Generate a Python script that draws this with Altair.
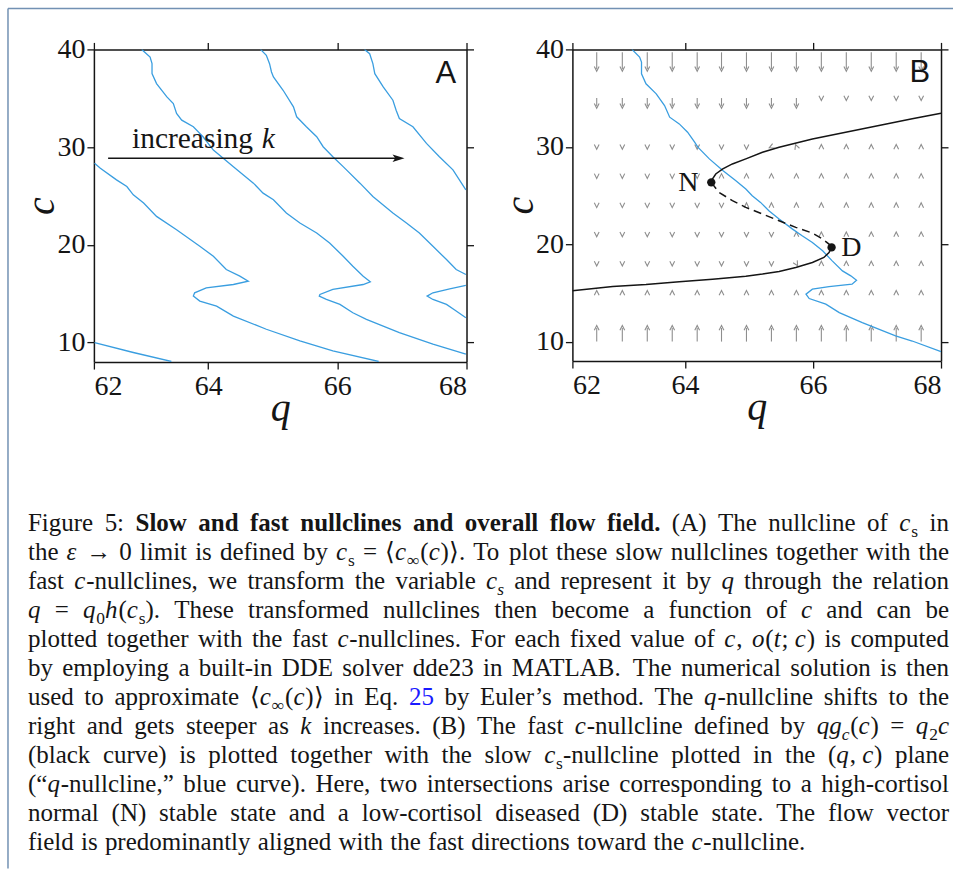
import math
import altair as alt
import pandas as pd

# ---------------- Panel A: slow q-nullclines (blue) ----------------
A1_q = [62.24, 62.84, 63.43]
A1_c = [10.0, 8.98, 8.06]

A2_q = [62.24, 62.33, 62.58, 62.74, 62.84, 63.00, 63.20, 63.51, 63.87, 64.08, 64.28, 64.49,
        64.62, 64.39, 63.97, 63.79, 63.77, 63.87, 64.13, 64.39, 64.90, 65.42, 65.93, 66.64]
A2_c = [28.35, 27.84, 26.65, 25.97, 25.12, 24.27, 22.91, 21.55, 19.85, 18.83, 17.47, 16.79,
        16.28, 15.94, 15.60, 15.09, 14.75, 14.24, 13.73, 12.71, 11.36, 10.17, 9.15, 8.06]

A3_q = [62.97, 63.10, 63.13, 63.13, 63.20, 63.36, 63.46, 63.51, 63.59, 63.77, 63.92, 64.08,
        64.39, 64.70, 64.85, 65.01, 65.21, 65.42, 65.68, 65.88, 66.09, 66.24, 66.40, 66.51,
        66.40, 65.93, 65.73, 65.72, 65.83, 66.04, 66.24, 66.45, 66.96, 67.48, 67.99]
A3_c = [40.0, 39.22, 38.54, 37.52, 36.50, 35.14, 34.46, 33.44, 32.76, 32.08, 31.06, 29.70,
        28.00, 26.31, 25.29, 24.61, 23.25, 22.23, 21.21, 20.19, 18.83, 17.81, 16.79, 16.21,
        15.94, 15.43, 14.92, 14.75, 14.41, 13.90, 13.05, 12.37, 11.02, 9.83, 8.81]

A4_q = [64.81, 64.90, 64.95, 64.98, 65.01, 65.16, 65.32, 65.37, 65.52, 65.68, 65.78, 65.93,
        66.09, 66.35, 66.55, 66.86, 67.07, 67.27, 67.48, 67.69, 67.84, 67.99]
A4_c = [40.0, 39.39, 38.54, 37.69, 37.18, 35.82, 34.12, 33.10, 32.08, 31.06, 30.04, 29.02,
        28.00, 26.31, 24.95, 23.25, 22.23, 21.21, 19.85, 18.49, 17.47, 16.96]
A4b_q = [67.99, 67.74, 67.48, 67.39, 67.48, 67.69, 67.84, 67.99]
A4b_c = [15.84, 15.50, 15.09, 14.75, 14.41, 13.90, 13.22, 12.54]

A5_q = [66.42, 66.50, 66.55, 66.58, 66.71, 66.86, 66.91, 66.96, 67.17, 67.38, 67.58, 67.79, 67.99]
A5_c = [40.0, 39.56, 38.54, 37.52, 36.16, 34.80, 33.78, 32.93, 32.08, 30.38, 29.02, 27.67, 25.63]

ARROW_Q = [62.45, 67.04]     # "increasing k" arrow, tail and tip
ARROW_C = 28.86
INC_Q, INC_C = 62.82, 29.88  # "increasing" text
K_Q = 64.83                  # italic k

# ---------------- Panel B ----------------
B_blue_q = [63.17, 63.29, 63.32, 63.32, 63.39, 63.55, 63.68, 63.76, 63.91, 64.04, 64.15, 64.20,
            64.38, 64.59, 64.79, 64.95, 65.05, 65.18, 65.31, 65.47, 65.68, 65.83, 65.99, 66.15,
            66.30, 66.46, 66.59, 66.68, 66.61, 66.25, 65.99, 65.89, 65.94, 66.20, 66.41, 66.77,
            67.29, 67.55, 68.0]
B_blue_c = [40.0, 39.21, 38.70, 37.50, 36.47, 35.44, 34.24, 33.04, 32.35, 31.50, 30.47, 29.96,
            28.76, 27.56, 26.53, 25.67, 24.98, 24.29, 23.43, 22.58, 21.55, 20.86, 20.18, 19.32,
            18.29, 17.26, 16.75, 16.30, 15.89, 15.65, 15.38, 14.87, 14.42, 13.84, 12.98, 11.95,
            10.58, 10.06, 8.97]

B_up_q = [68.0, 67.55, 67.03, 66.51, 65.99, 65.47, 65.21, 64.95, 64.74, 64.59, 64.48, 64.43, 64.41]
B_up_c = [33.45, 32.87, 32.18, 31.50, 30.81, 29.96, 29.44, 28.76, 28.24, 27.73, 27.21, 26.70, 26.35]
B_mid_q = [64.41, 64.53, 64.74, 64.95, 65.21, 65.47, 65.73, 65.99, 66.15, 66.25, 66.29]
B_mid_c = [26.35, 25.33, 24.47, 23.78, 23.10, 22.41, 21.73, 21.14, 20.53, 20.01, 19.67]
B_low_q = [66.29, 66.25, 66.17, 65.99, 65.73, 65.47, 65.21, 64.95, 64.43, 63.91, 63.39, 62.87, 62.24]
B_low_c = [19.67, 19.15, 18.64, 18.12, 17.61, 17.20, 16.93, 16.72, 16.41, 16.14, 15.86, 15.66, 15.21]

STATES = ["N", "D"]
STATE_Q = [64.41, 66.29]
STATE_C = [26.35, 19.67]
LABEL_Q = [64.21, 66.44]
LABEL_C = [25.46, 18.78]

# vector field grid (tail positions), direction (deg clockwise from up) and length (c units)
VF_Q = [62.62, 63.02, 63.41, 63.80, 64.19, 64.57, 64.96, 65.35, 65.74, 66.13, 66.52, 66.91, 67.30, 67.69]
VF_C = [39.7, 35.0, 30.0, 27.0, 24.0, 21.0, 18.0, 15.0, 10.0]
VF_ANG = [
    [180] * 14,
    [180] * 14,
    [180] * 7 + [245, 340] + [0] * 5,
    [180] * 5 + [0] * 9,
    [180] * 6 + [0] * 8,
    [180] * 8 + [0] * 6,
    [180] * 8 + [150] + [0] * 5,
    [0] * 14,
    [0] * 14,
]
VF_LEN = [
    [1.7] * 14,
    [0.8] * 9 + [0] * 5,
    [0] * 14, [0] * 14, [0] * 14, [0] * 14, [0] * 14, [0] * 14,
    [1.4] * 14,
]

# ---------------- style ----------------
BLUE = "#3a9ee0"
BLACK = "#151515"
GRAY = "#8e8e8e"
SERIF = "Liberation Serif"
SANS = "Liberation Sans"


def cdf(qs, cs, name):
    return pd.DataFrame({"q": qs, "c": cs, "curve": name, "ord": list(range(len(qs)))})


LAB = "datum.value < 63 ? '62' : datum.label"
AX = dict(labelFont=SERIF, labelFontSize=28, labelColor=BLACK, titleFont=SERIF, titleFontSize=40,
          titleFontStyle="italic", titleFontWeight="normal", titleColor=BLACK,
          domainColor=BLACK, domainWidth=1.5, tickColor=BLACK, tickSize=7, tickWidth=1.3, grid=False)


def panel(layers, xdom, w, h):
    xs = alt.Scale(domain=xdom, nice=False, zero=False)
    ys = alt.Scale(domain=[8, 40], nice=False, zero=False)
    xv = [xdom[0], 64, 66, 68]
    yv = [10, 20, 30, 40]
    X = alt.X("q:Q", scale=xs, axis=alt.Axis(orient="bottom", values=xv, labelExpr=LAB, title="q",
                                             labelPadding=3, titlePadding=-12, **AX))
    Y = alt.Y("c:Q", scale=ys, axis=alt.Axis(orient="left", values=yv, title="c",
                                             labelPadding=2, titlePadding=-5, **AX))
    Xn = alt.X("q:Q", scale=xs, axis=None)
    Yn = alt.Y("c:Q", scale=ys, axis=None)
    Xt = alt.X("q:Q", scale=xs, axis=alt.Axis(orient="top", values=xv, labels=False, title=None, **AX))
    Yr = alt.Y("c:Q", scale=ys, axis=alt.Axis(orient="right", values=yv, labels=False, title=None, **AX))
    built = [f(Xn, Yn) for f in layers]
    frame_df = cdf([xdom[0], 68], [8, 40], "f")
    bottom_left = alt.Chart(frame_df).mark_point(opacity=0).encode(x=X, y=Y)
    top_right = alt.Chart(frame_df).mark_point(opacity=0).encode(x=Xt, y=Yr)
    return alt.layer(bottom_left, *built, top_right).resolve_axis(
        x="independent", y="independent").properties(width=w, height=h)


# ---------- panel A ----------
dfA = pd.concat([cdf(A1_q, A1_c, "k1"), cdf(A2_q, A2_c, "k2"), cdf(A3_q, A3_c, "k3"),
                 cdf(A4_q, A4_c, "k4"), cdf(A4b_q, A4b_c, "k4b"), cdf(A5_q, A5_c, "k5")])
head_px = 6.0
pxq_A = 373 / (68 - 62.23)
arrow_df = pd.DataFrame({"q": [ARROW_Q[0]], "q2": [ARROW_Q[1] - head_px / pxq_A], "c": [ARROW_C]})
head_df = pd.DataFrame({"q": [ARROW_Q[1] - head_px / pxq_A], "c": [ARROW_C]})
txtA = pd.DataFrame({"q": [INC_Q], "c": [INC_C], "t": ["increasing"]})
ktxt = pd.DataFrame({"q": [K_Q], "c": [INC_C], "t": ["k"]})
letA = pd.DataFrame({"q": [67.68], "c": [36.6], "t": ["A"]})

layersA = [
    lambda X, Y: alt.Chart(dfA).mark_line(color=BLUE, strokeWidth=1.3, clip=True).encode(
        x=X, y=Y, detail="curve:N", order="ord:Q"),
    lambda X, Y: alt.Chart(arrow_df).mark_rule(color=BLACK, strokeWidth=1.3).encode(x=X, x2="q2:Q", y=Y),
    lambda X, Y: alt.Chart(head_df).mark_point(shape="M1,0L-1,-0.62L-0.55,0L-1,0.62Z", filled=True,
                                               color=BLACK, size=144, opacity=1).encode(x=X, y=Y),
    lambda X, Y: alt.Chart(txtA).mark_text(font=SERIF, fontSize=29.5, align="left", baseline="alphabetic",
                                           color=BLACK).encode(x=X, y=Y, text="t:N"),
    lambda X, Y: alt.Chart(ktxt).mark_text(font=SERIF, fontSize=29.5, fontStyle="italic", align="left",
                                           baseline="alphabetic", color=BLACK).encode(x=X, y=Y, text="t:N"),
    lambda X, Y: alt.Chart(letA).mark_text(font=SANS, fontSize=31, align="center", baseline="alphabetic",
                                           color=BLACK).encode(x=X, y=Y, text="t:N"),
]
chartA = panel(layersA, [62.23, 68], 373, 313)

# ---------- panel B ----------
pxq_B = 369 / (68 - 62.24)
pxc_B = 312 / 32.0
rows = []
for r, cc in enumerate(VF_C):
    for j, qq in enumerate(VF_Q):
        a = VF_ANG[r][j]
        L = VF_LEN[r][j]
        dc = L * math.cos(math.radians(a))
        dq = L * pxc_B * math.sin(math.radians(a)) / pxq_B
        rows.append({"q": qq, "c": cc, "q2": qq + dq, "c2": cc + dc, "ang": a % 360, "L": L})
vf = pd.DataFrame(rows)
shafts = vf[vf["L"] > 0]
heads = vf.copy()
heads["q"] = heads["q2"]
heads["c"] = heads["c2"]

dfB_blue = cdf(B_blue_q, B_blue_c, "blue")
dfB_solid = pd.concat([cdf(B_up_q, B_up_c, "up"), cdf(B_low_q, B_low_c, "low")])
dfB_dash = cdf(B_mid_q, B_mid_c, "mid")
states = pd.DataFrame({"q": STATE_Q, "c": STATE_C})
labels = pd.DataFrame({"q": LABEL_Q, "c": LABEL_C, "t": STATES, "al": ["right", "left"]})
letB = pd.DataFrame({"q": [67.67], "c": [36.7], "t": ["B"]})

layersB = [
    lambda X, Y: alt.Chart(shafts).mark_rule(color=GRAY, strokeWidth=1.1).encode(x=X, y=Y, x2="q2:Q", y2="c2:Q"),
    lambda X, Y: alt.Chart(heads).mark_point(shape="M-0.8,0.8L0,-0.8L0.8,0.8", filled=False, color=GRAY,
                                             size=36, strokeWidth=1.1, opacity=1).encode(
        x=X, y=Y, angle=alt.Angle("ang:Q", scale=None)),
    lambda X, Y: alt.Chart(dfB_blue).mark_line(color=BLUE, strokeWidth=1.3, clip=True).encode(
        x=X, y=Y, detail="curve:N", order="ord:Q"),
    lambda X, Y: alt.Chart(dfB_solid).mark_line(color=BLACK, strokeWidth=1.5, clip=True).encode(
        x=X, y=Y, detail="curve:N", order="ord:Q"),
    lambda X, Y: alt.Chart(dfB_dash).mark_line(color=BLACK, strokeWidth=1.5, strokeDash=[8, 5]).encode(
        x=X, y=Y, order="ord:Q"),
    lambda X, Y: alt.Chart(states).mark_point(filled=True, color=BLACK, size=70, opacity=1).encode(x=X, y=Y),
    lambda X, Y: alt.Chart(labels[labels.al == "right"]).mark_text(
        font=SERIF, fontSize=28, align="right", baseline="alphabetic", color=BLACK).encode(x=X, y=Y, text="t:N"),
    lambda X, Y: alt.Chart(labels[labels.al == "left"]).mark_text(
        font=SERIF, fontSize=28, align="left", baseline="alphabetic", color=BLACK).encode(x=X, y=Y, text="t:N"),
    lambda X, Y: alt.Chart(letB).mark_text(font=SANS, fontSize=31, align="center", baseline="alphabetic",
                                           color=BLACK).encode(x=X, y=Y, text="t:N"),
]
chartB = panel(layersB, [62.24, 68], 369, 312)

# ---------------- caption ----------------
ROMAN = {' ': 250, '(': 333, ')': 333, ',': 250, '.': 250, ':': 278, ';': 278, '-': 333, '=': 564,
         '’': 333, '“': 444, '”': 444, '→': 1000, '⟨': 400, '⟩': 400, '∞': 760}
for d in '0123456789':
    ROMAN[d] = 500
ROMAN.update(zip('ABCDEFGHIJKLMNOPQRSTUVWXYZ', [722, 667, 667, 722, 611, 556, 722, 722, 333, 389, 722, 611, 889,
                                                722, 722, 556, 722, 667, 556, 611, 722, 722, 944, 722, 722, 611]))
ROMAN.update(zip('abcdefghijklmnopqrstuvwxyz', [444, 500, 444, 500, 444, 333, 500, 500, 278, 278, 500, 278, 778,
                                                500, 500, 500, 500, 333, 389, 278, 500, 500, 722, 500, 500, 444]))
BOLD = dict(ROMAN)
BOLD.update(zip('abcdefghijklmnopqrstuvwxyz', [500, 556, 444, 556, 444, 333, 500, 556, 278, 333, 556, 278, 833,
                                               556, 500, 556, 556, 444, 389, 333, 556, 500, 722, 500, 500, 444]))
ITAL = dict(ROMAN)
ITAL.update(zip('abcdefghijklmnopqrstuvwxyz', [500, 500, 444, 500, 444, 278, 500, 500, 278, 278, 444, 278, 722,
                                               500, 500, 500, 500, 389, 389, 278, 500, 444, 667, 444, 444, 389]))
ITAL['ε'] = 460
MET = {'r': ROMAN, 'b': BOLD, 'i': ITAL, 's': ROMAN, 'si': ITAL, 'blue': ROMAN}
ITALIC_CORR = 35  # small extra room after an italic piece (1/1000 em)

F = 25.0
SUBSCALE = 0.7


def bw(w):
    return ((w, 'b'),)


def cs(sub='s', tail=''):
    p = [('c', 'i'), ('s', sub)]
    if tail:
        p.append((tail, 'r'))
    return tuple(p)


CAP = [
    ["Figure", "5:"] + [bw(w) for w in "Slow and fast nullclines and overall flow field.".split()] +
    ["(A)", "The", "nullcline", "of", cs(), "in"],
    ["the", (('ε', 'i'),), "→", "0", "limit", "is", "defined", "by", cs(), "=",
     (('⟨', 'r'), ('c', 'i'), ('∞', 's'), ('(', 'r'), ('c', 'i'), (')⟩.', 'r')),
     "To", "plot", "these", "slow", "nullclines", "together", "with", "the"],
    ["fast", (('c', 'i'), ('-nullclines,', 'r')), "we", "transform", "the", "variable", cs('si'), "and",
     "represent", "it", "by", (('q', 'i'),), "through", "the", "relation"],
    [(('q', 'i'),), "=", (('q', 'i'), ('0', 's'), ('h', 'i'), ('(', 'r'), ('c', 'i'), ('s', 's'), (').', 'r')),
     "These", "transformed", "nullclines", "then", "become", "a", "function", "of", (('c', 'i'),), "and", "can", "be"],
    ["plotted", "together", "with", "the", "fast", (('c', 'i'), ('-nullclines.', 'r')), "For", "each", "fixed",
     "value", "of", (('c', 'i'), (',', 'r')),
     (('o', 'i'), ('(', 'r'), ('t', 'i'), ('; ', 'r'), ('c', 'i'), (')', 'r')), "is", "computed"],
    ["by", "employing", "a", "built-in", "DDE", "solver", "dde23", "in", "MATLAB.", "The", "numerical",
     "solution", "is", "then"],
    ["used", "to", "approximate", (('⟨', 'r'), ('c', 'i'), ('∞', 's'), ('(', 'r'), ('c', 'i'), (')⟩', 'r')),
     "in", "Eq.", (('25', 'blue'),), "by", "Euler’s", "method.", "The", (('q', 'i'), ('-nullcline', 'r')),
     "shifts", "to", "the"],
    ["right", "and", "gets", "steeper", "as", (('k', 'i'),), "increases.", "(B)", "The", "fast",
     (('c', 'i'), ('-nullcline', 'r')), "defined", "by",
     (('qg', 'i'), ('c', 'si'), ('(', 'r'), ('c', 'i'), (')', 'r')), "=", (('q', 'i'), ('2', 's'), ('c', 'i'))],
    ["(black", "curve)", "is", "plotted", "together", "with", "the", "slow", cs('s', '-nullcline'), "plotted",
     "in", "the", (('(', 'r'), ('q', 'i'), (', ', 'r'), ('c', 'i'), (')', 'r')), "plane"],
    [(('(“', 'r'), ('q', 'i'), ('-nullcline,”', 'r')), "blue", "curve).", "Here,", "two", "intersections",
     "arise", "corresponding", "to", "a", "high-cortisol"],
    ["normal", "(N)", "stable", "state", "and", "a", "low-cortisol", "diseased", "(D)", "stable", "state.",
     "The", "flow", "vector"],
    ["field", "is", "predominantly", "aligned", "with", "the", "fast", "directions", "toward", "the",
     (('c', 'i'), ('-nullcline.', 'r'))],
]

CAP_LEFT, CAP_RIGHT = -66.0, 856.0
CAP_BASE0, CAP_STEP = 51.5, 29.0


def piece_w(text, style, nxt=None):
    size = F * SUBSCALE if style in ('s', 'si') else F
    m = MET[style]
    w = sum(m.get(ch, 500) for ch in text)
    if nxt is not None and style in ('i', 'si') and nxt not in ('i', 'si'):
        w += ITALIC_CORR
    return w * size / 1000.0


def word_pieces(wd):
    out = []
    for k, (t, s) in enumerate(wd):
        nxt = wd[k + 1][1] if k + 1 < len(wd) else None
        out.append((t, s, piece_w(t, s, nxt)))
    return out


rows = []
for li, line in enumerate(CAP):
    words = [word_pieces(((w, 'r'),) if isinstance(w, str) else w) for w in line]
    widths = [sum(p[2] for p in wd) for wd in words]
    last = li == len(CAP) - 1
    gap = 0.25 * F + 1 if last else (CAP_RIGHT - CAP_LEFT - sum(widths)) / (len(words) - 1)
    x = CAP_LEFT
    base = CAP_BASE0 + li * CAP_STEP
    for wd in words:
        for t, s, pw in wd:
            yy = base + (0.22 * F if s in ('s', 'si') else 0)
            rows.append({"x": x, "y": yy, "t": t, "s": s})
            x += pw
        x += gap
cap = pd.DataFrame(rows)

STY = {
    'r': dict(fontSize=F, color=BLACK),
    'b': dict(fontSize=F, fontWeight='bold', color=BLACK),
    'i': dict(fontSize=F, fontStyle='italic', color=BLACK),
    's': dict(fontSize=F * SUBSCALE, color=BLACK),
    'si': dict(fontSize=F * SUBSCALE, fontStyle='italic', color=BLACK),
    'blue': dict(fontSize=F, color="#1a1aff"),
}
cap_layers = []
for s, kw in STY.items():
    cap_layers.append(
        alt.Chart(cap).transform_filter(alt.datum.s == s).mark_text(
            font=SERIF, align="left", baseline="alphabetic", **kw).encode(
            x=alt.X("x:Q", scale=None, axis=None), y=alt.Y("y:Q", scale=None, axis=None), text="t:N"))

FRAME = "#7291b3"
one = pd.DataFrame({"z": [0]})
cap_layers.append(alt.Chart(one).mark_rule(color=FRAME, strokeWidth=1.5).encode(
    x=alt.value(-86), x2=alt.value(860), y=alt.value(-472)))
cap_layers.append(alt.Chart(one).mark_rule(color=FRAME, strokeWidth=1.5).encode(
    x=alt.value(-86), y=alt.value(-472), y2=alt.value(389)))
caption = alt.layer(*cap_layers).properties(width=373, height=389)

chart = alt.concat(chartA, chartB, caption, columns=2, spacing={"row": 118, "column": 106}, bounds="flush").properties(
    padding={"left": 7, "top": 7, "right": 0, "bottom": 0}, background="white"
).configure(font=SERIF).configure_view(stroke=None).configure_axis(**AX)

chart.save("out.html", embed_options={"renderer": "svg", "actions": False})
